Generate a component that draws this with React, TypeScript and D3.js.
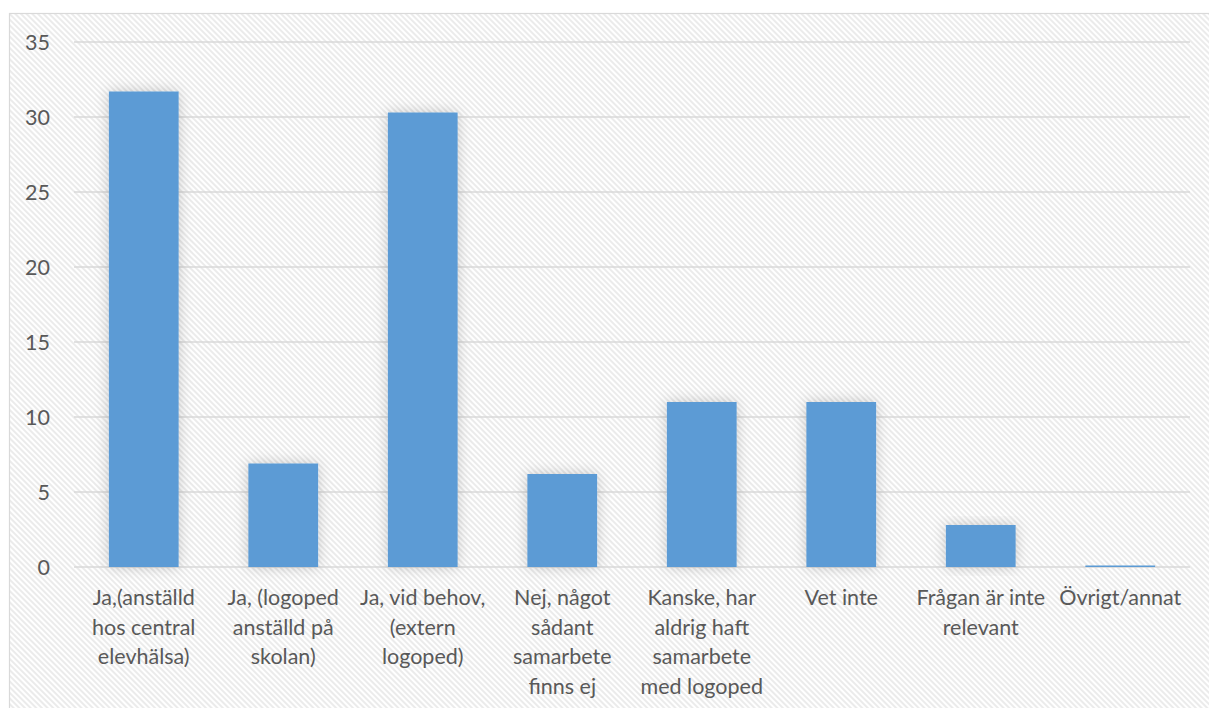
import React from "react";
import * as d3 from "d3";

const categories: string[][] = [
  ["Ja,(anställd", "hos central", "elevhälsa)"],
  ["Ja, (logoped", "anställd på", "skolan)"],
  ["Ja, vid behov,", "(extern", "logoped)"],
  ["Nej, något", "sådant", "samarbete", "finns ej"],
  ["Kanske, har", "aldrig haft", "samarbete", "med logoped"],
  ["Vet inte"],
  ["Frågan är inte", "relevant"],
  ["Övrigt/annat"],
];
const values: number[] = [31.7, 6.9, 30.3, 6.2, 11, 11, 2.8, 0.1];
const yTicks: number[] = [0, 5, 10, 15, 20, 25, 30, 35];

const W = 1209;
const H = 708;
const margin = { left: 74, right: 19, top: 42, bottom: 141 };
const FONT = "Lato, 'Open Sans', sans-serif";

export default function App() {
  const keys = categories.map((_, i) => String(i));
  const x = d3
    .scaleBand<string>()
    .domain(keys)
    .range([margin.left, W - margin.right])
    .paddingInner(0.5)
    .paddingOuter(0.25);
  const y = d3
    .scaleLinear()
    .domain([0, 35])
    .range([H - margin.bottom, margin.top]);

  return (
    <div style={{ position: "absolute", left: 0, top: 0 }}>
      <svg width={W} height={H} style={{ display: "block" }}>
        <defs>
          <pattern
            id="stripes"
            width={4}
            height={4}
            patternUnits="userSpaceOnUse"
            patternTransform="rotate(-45)"
          >
            <rect width={4} height={4} fill="#ffffff" />
            <rect width={2} height={4} fill="#ebebeb" />
          </pattern>
          <filter id="glow" x="-40%" y="-20%" width="180%" height="140%">
            <feGaussianBlur in="SourceAlpha" stdDeviation={7} result="blur" />
            <feFlood floodColor="#000" floodOpacity={0.2} />
            <feComposite in2="blur" operator="in" result="shadow" />
            <feMerge>
              <feMergeNode in="shadow" />
              <feMergeNode in="SourceGraphic" />
            </feMerge>
          </filter>
        </defs>
        <rect x={0} y={0} width={W} height={H} fill="#fff" />
        <rect
          x={9.5}
          y={13.5}
          width={W}
          height={H}
          fill="url(#stripes)"
          stroke="#d9d9d9"
          strokeWidth={1.2}
        />
        {yTicks.map((t) => (
          <g key={t}>
            <line
              x1={margin.left}
              x2={W - margin.right}
              y1={y(t)}
              y2={y(t)}
              stroke="#d9d9d9"
              strokeWidth={1.4}
            />
            <text
              x={50}
              y={y(t)}
              dy="0.36em"
              textAnchor="end"
              fontFamily={FONT}
              fontSize={21.5}
              fill="#595959"
            >
              {t}
            </text>
          </g>
        ))}
        {values.map((v, i) => (
          <rect
            key={i}
            x={x(String(i))}
            y={y(v)}
            width={x.bandwidth()}
            height={y(0) - y(v)}
            fill="#5b9bd5"
            filter="url(#glow)"
          />
        ))}
        {categories.map((lines, i) => (
          <text
            key={i}
            x={(x(String(i)) as number) + x.bandwidth() / 2}
            y={605}
            textAnchor="middle"
            fontFamily={FONT}
            fontSize={21.5}
            fill="#595959"
          >
            {lines.map((l, j) => (
              <tspan key={j} x={(x(String(i)) as number) + x.bandwidth() / 2} dy={j === 0 ? 0 : 29.5}>
                {l}
              </tspan>
            ))}
          </text>
        ))}
      </svg>
    </div>
  );
}
